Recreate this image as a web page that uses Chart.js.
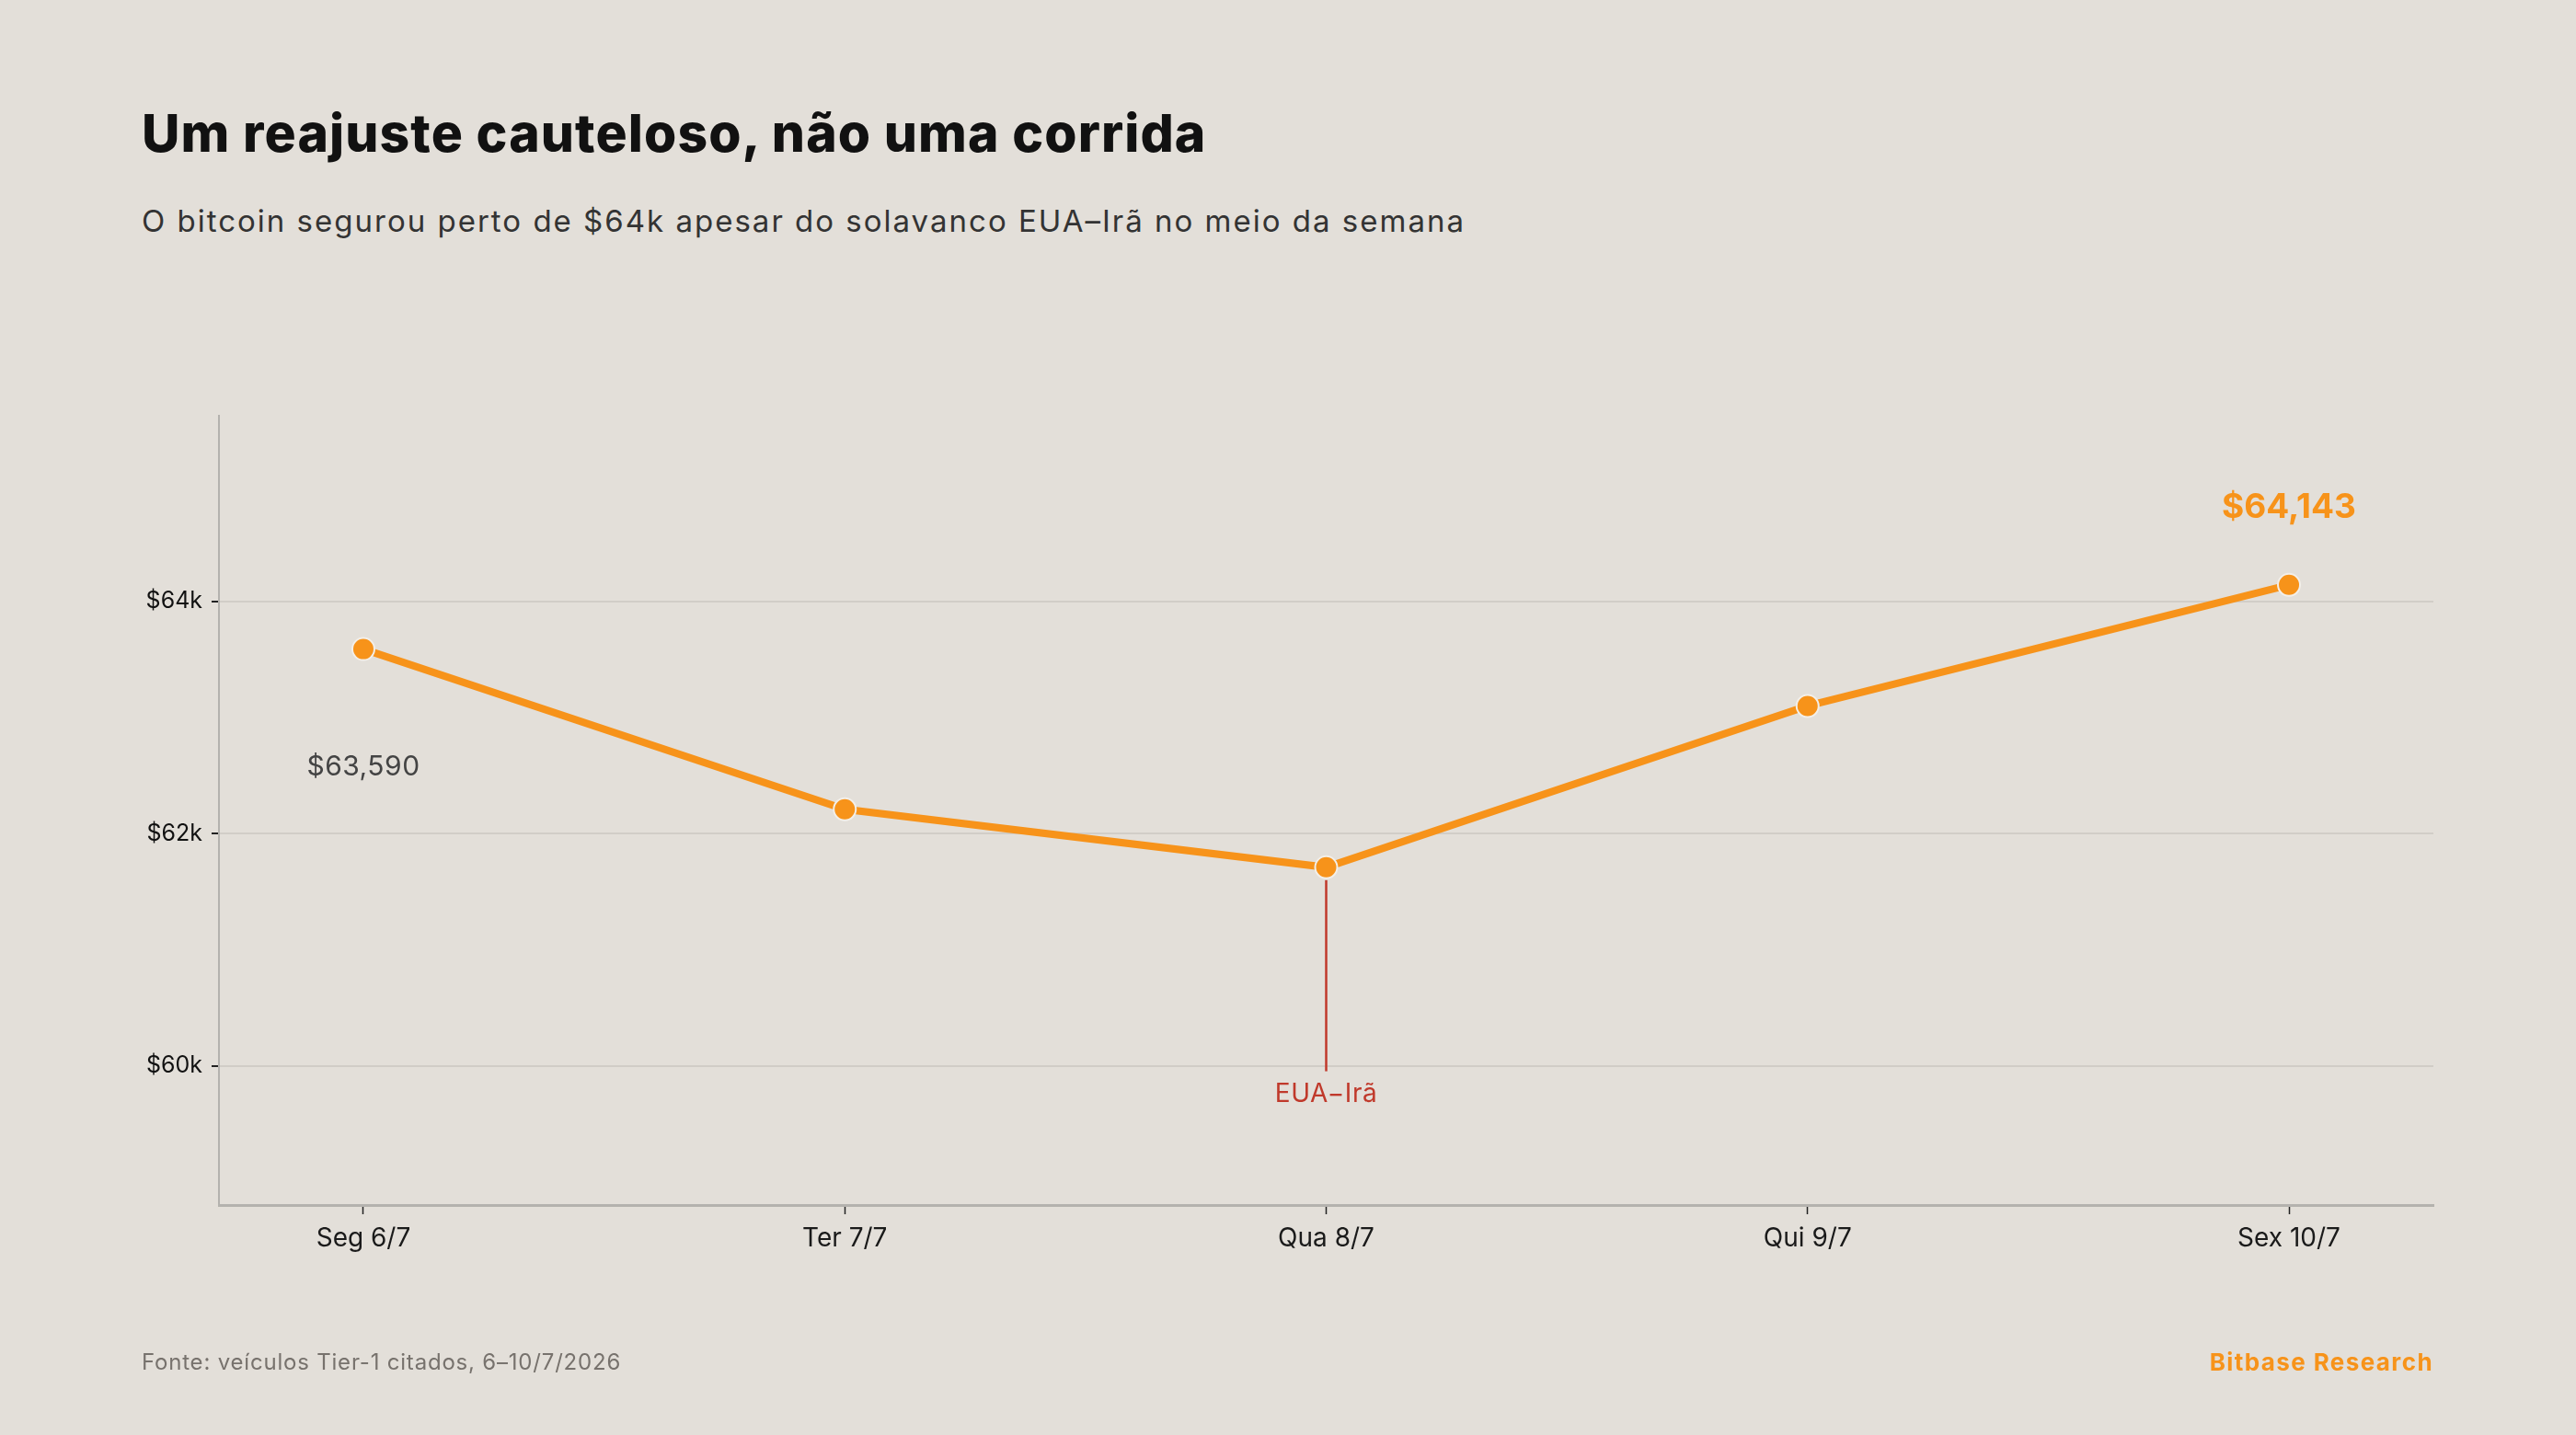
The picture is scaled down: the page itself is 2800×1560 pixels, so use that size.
<!DOCTYPE html>
<html lang="pt">
<head>
<meta charset="utf-8">
<title>Um reajuste cauteloso, não uma corrida</title>
<script src="https://cdn.jsdelivr.net/npm/chart.js@4"></script>
<style>
  html, body { margin: 0; padding: 0; }
  body {
    width: 2800px; height: 1560px; overflow: hidden; position: relative;
    background: #e3dfd9; font-family: Inter, "Noto Sans", sans-serif;
  }
  .title { position: absolute; left: 154px; top: 116px; font-size: 57px; line-height: 57px; font-weight: 800; color: #111; letter-spacing: 1.1px; white-space: nowrap; }
  .subtitle { position: absolute; left: 154px; top: 224px; font-size: 33px; line-height: 33px; color: #333; letter-spacing: 2px; white-space: nowrap; }
  .source { position: absolute; left: 154px; top: 1469px; font-size: 24px; line-height: 24px; color: #77726d; letter-spacing: 0.8px; white-space: nowrap; }
  .brand { position: absolute; right: 155px; top: 1468px; font-size: 26px; line-height: 26px; font-weight: 700; color: #f7931a; letter-spacing: 1.4px; white-space: nowrap; }
  .wrap { position: absolute; left: 0; top: 0; width: 2800px; height: 1560px; }
</style>
</head>
<body>
<div class="title">Um reajuste cauteloso, não uma corrida</div>
<div class="subtitle">O bitcoin segurou perto de $64k apesar do solavanco EUA–Irã no meio da semana</div>
<div class="wrap"><canvas id="chart"></canvas></div>
<div class="source">Fonte: veículos Tier-1 citados, 6–10/7/2026</div>
<div class="brand">Bitbase Research</div>

<script>
const days = ['Seg 6/7', 'Ter 7/7', 'Qua 8/7', 'Qui 9/7', 'Sex 10/7'];
const prices = [63590, 62210, 61710, 63100, 64143];
const yTicks = [60000, 62000, 64000];
const yTickLabels = ['$60k', '$62k', '$64k'];
const eventDay = 'Qua 8/7';
const eventLabel = 'EUA−Irã';

const orange = '#f7931a';
const red = '#c0392b';
const money = v => '$' + v.toLocaleString('en-US');

// red marker under the mid-week dip + the two price callouts
const notes = {
  id: 'notes',
  beforeDatasetsDraw(chart) {
    const { ctx, scales: { x, y } } = chart;
    const i = days.indexOf(eventDay);
    const px = x.getPixelForValue(i);
    ctx.save();
    ctx.strokeStyle = red;
    ctx.lineWidth = 2.5;
    ctx.beginPath();
    ctx.moveTo(px, y.getPixelForValue(prices[i]) + 14);
    ctx.lineTo(px, y.getPixelForValue(yTicks[0]) + 6);
    ctx.stroke();
    ctx.restore();
  },
  afterDatasetsDraw(chart) {
    const { ctx, scales: { x, y } } = chart;
    ctx.save();
    ctx.textAlign = 'center';
    ctx.textBaseline = 'middle';

    const i = days.indexOf(eventDay);
    ctx.fillStyle = red;
    ctx.font = '28px Inter, sans-serif';
    ctx.letterSpacing = '0.5px';
    ctx.fillText(eventLabel, x.getPixelForValue(i), y.getPixelForValue(yTicks[0]) + 31);

    ctx.fillStyle = '#444';
    ctx.font = '30px Inter, sans-serif';
    ctx.fillText(money(prices[0]), x.getPixelForValue(0), y.getPixelForValue(prices[0]) + 128);

    const last = prices.length - 1;
    ctx.fillStyle = orange;
    ctx.font = 'bold 37px Inter, sans-serif';
    ctx.letterSpacing = '0px';
    ctx.fillText(money(prices[last]), x.getPixelForValue(last), y.getPixelForValue(prices[last]) - 84);
    ctx.restore();
  }
};

new Chart(document.getElementById('chart'), {
  type: 'line',
  data: {
    datasets: [{
      data: prices.map((p, i) => ({ x: i, y: p })),
      borderColor: orange,
      borderWidth: 8,
      pointRadius: 12,
      pointHoverRadius: 12,
      pointBackgroundColor: orange,
      pointBorderColor: '#f3efe9',
      pointBorderWidth: 2,
      tension: 0
    }]
  },
  options: {
    responsive: true,
    maintainAspectRatio: false,
    animation: false,
    layout: { padding: { left: 150, top: 452, right: 155, bottom: 170 } },
    plugins: { legend: { display: false }, tooltip: { enabled: false } },
    scales: {
      x: {
        type: 'linear',
        min: -0.3,
        max: 4.3,
        afterBuildTicks: s => { s.ticks = days.map((d, i) => ({ value: i })); },
        afterFit: s => { s.height = 80; },
        ticks: {
          callback: v => days[v],
          color: '#1a1a1a',
          font: { family: 'Inter', size: 28 },
          padding: 10,
          maxRotation: 0
        },
        grid: { drawOnChartArea: false, drawTicks: true, tickLength: 10, tickColor: '#222', tickWidth: 1.5 },
        border: { color: '#b4b2ae', width: 3 }
      },
      y: {
        min: 58800,
        max: 65600,
        afterBuildTicks: s => { s.ticks = yTicks.map(v => ({ value: v })); },
        afterFit: s => { s.width = 88; },
        ticks: {
          callback: v => yTickLabels[yTicks.indexOf(v)],
          color: '#111',
          font: { family: 'Inter', size: 25 },
          padding: 10
        },
        grid: { color: '#d1cdc7', lineWidth: 2, drawTicks: true, tickLength: 8, tickColor: '#222', tickWidth: 2 },
        border: { color: '#b4b2ae', width: 2 }
      }
    }
  },
  plugins: [notes]
});
</script>
</body>
</html>
